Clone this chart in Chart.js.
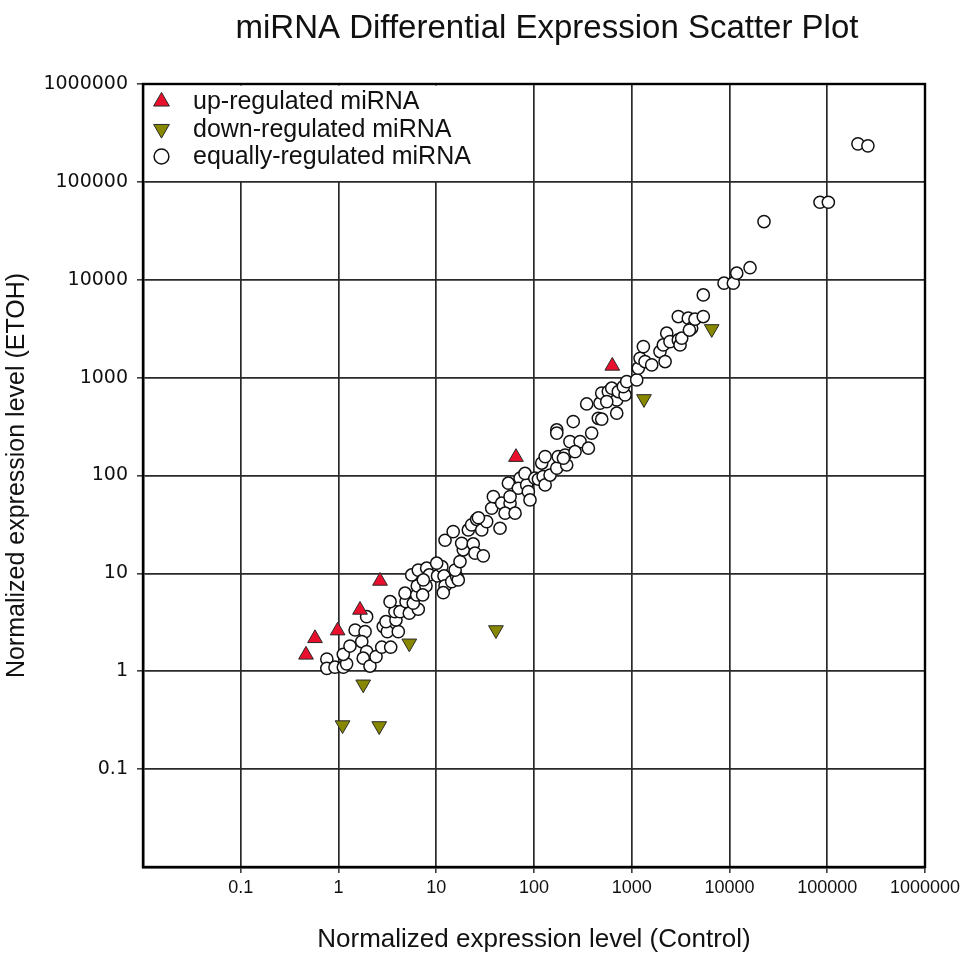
<!DOCTYPE html>
<html>
<head>
    <title>miRNA Differential Expression Scatter Plot</title>
    <style>
        html, body { margin: 0; padding: 0; background: #fff; }
        #wrap { width: 971px; height: 958px; }
    </style>
</head>
<body>
<div id="wrap"><canvas id="scatterChart" width="971" height="958"></canvas></div>

<script src="https://cdn.jsdelivr.net/npm/chart.js@4.4.1/dist/chart.umd.min.js"></script>
<script>
// values (Control vs ETOH)
const upX = [0.465, 0.575, 0.98, 1.66, 2.66, 65.4, 632];
const upY = [1.47, 2.17, 2.60, 4.23, 8.36, 154, 1317];

const downX = [1.10, 2.61, 1.79, 5.30, 40.8, 1334, 6576];
const downY = [0.282, 0.276, 0.736, 1.93, 2.64, 606, 3146];

const equalX = [
    0.76, 0.76, 0.92, 1.12, 1.21, 1.12, 1.31, 1.48, 1.87, 1.73, 1.94, 1.79, 2.10, 2.42, 2.77, 3.42,
    1.94, 2.87, 3.16, 4.09, 3.06, 3.87, 3.78, 3.37, 4.26, 4.91, 4.79, 5.30, 6.55, 5.82, 6.31, 6.40,
    7.85, 7.26, 5.61, 6.55, 7.98, 8.49, 10.3, 11.4, 12.0, 12.3, 11.8, 10.1,
    7.38, 14.4, 16.2, 16.8, 15.6, 17.5, 18.9, 18.2, 12.3, 14.9, 21.3, 23.9, 23.0, 25.9, 29.2, 32.8,
    24.9, 30.3, 44.9, 36.9, 38.4, 46.7, 56.9, 50.6, 64.0, 54.7, 72.0, 69.2, 84.2, 80.9,
    56.9, 87.5, 91.0, 102, 111, 124, 130, 120, 130, 146, 171, 177, 216, 208, 233, 296,
    263, 360, 389, 252, 171, 171, 346, 455, 27.0, 200,
    473, 493, 576, 624, 702, 729, 854, 820, 888, 1124, 1167, 1216, 1315, 1368, 1600, 1945,
    2104, 2280, 2193, 555, 702, 493,
    2460, 2994, 3119, 3243, 2994, 3784, 4100, 4433, 5393, 5393, 8790, 10940, 11860, 3890,
    16220, 22540, 84300, 102600, 206000, 260600
];
const equalY = [
    1.33, 1.07, 1.10, 1.10, 1.19, 1.49, 1.81, 2.64, 2.54, 2.01, 1.59, 1.36, 1.13, 1.41, 1.76, 1.76,
    3.61, 2.86, 2.54, 2.54, 3.21, 3.34, 4.06, 5.14, 4.06, 5.14, 6.27, 3.92, 4.30, 4.95, 6.02, 7.45,
    7.45, 6.02, 9.64, 10.8, 11.3, 9.64, 9.42, 11.7, 9.42, 7.45, 6.35, 12.7,
    8.57, 8.24, 9.26, 8.57, 10.8, 13.2, 17.4, 20.3, 21.8, 26.7, 27.8, 20.0, 31.3, 35.7, 27.8, 33.8,
    16.1, 15.1, 28.9, 46.3, 60.8, 52.1, 52.1, 41.2, 41.2, 83.4, 93.8, 74.1, 80.2, 105,
    60.8, 68.4, 56.3, 93.8, 91.6, 97.5, 80.2, 134, 156, 101, 119, 156, 128, 162, 222, 222,
    175, 190, 271, 356, 292, 271, 538, 384, 37.0, 150,
    548, 694, 720, 780, 592, 720, 665, 809, 910, 948, 1248, 1578, 2075, 1459, 1349, 1845,
    2158, 2844, 1459, 569, 433, 376,
    2333, 2428, 2158, 2529, 4207, 4046, 3199, 3954, 4207, 7000, 9220, 9220, 11670, 3060,
    13270, 39300, 61900, 61900, 244500, 233400
];

const tickValues = [0.1, 1, 10, 100, 1000, 10000, 100000, 1000000];
const tickLabels = ['0.1', '1', '10', '100', '1000', '10000', '100000', '1000000'];

const upColor = '#e8102c';
const downColor = '#878700';

function toPoints(xs, ys) {
    return xs.map((x, i) => ({ x: x, y: ys[i] }));
}

// title drawn at the same spot as the reference (it is not centred on the plot)
const titlePlugin = {
    id: 'plotTitle',
    afterDraw(chart) {
        const ctx = chart.ctx;
        ctx.save();
        ctx.font = "33px 'Liberation Sans', Arial, sans-serif";
        ctx.fillStyle = '#111';
        ctx.textAlign = 'center';
        ctx.textBaseline = 'middle';
        ctx.fillText('miRNA Differential Expression Scatter Plot', 547, 29);
        ctx.restore();
    }
};

// legend sits inside the plot, on a white patch that hides the grid behind it
const insideLegend = {
    id: 'insideLegend',
    beforeDatasetsDraw(chart) {
        const ctx = chart.ctx;
        const a = chart.chartArea;
        ctx.save();
        ctx.fillStyle = '#fff';
        ctx.fillRect(a.left + 1.5, a.top + 1.5, 500 - a.left, 181 - a.top - 1.5);

        const rows = [101.5, 129, 156.5];
        chart.data.datasets.forEach((ds, i) => {
            ctx.fillStyle = ds.backgroundColor;
            ctx.strokeStyle = ds.borderColor;
            ctx.lineWidth = ds.borderWidth;
            Chart.helpers.drawPoint(ctx, {
                pointStyle: ds.pointStyle,
                radius: ds.pointRadius + (ds.pointStyle === 'circle' ? 1.3 : 0.6),
                rotation: ds.pointRotation || 0,
                borderWidth: ds.borderWidth
            }, 161.5, rows[i]);

            ctx.fillStyle = '#111';
            ctx.font = "25px 'Liberation Sans', Arial, sans-serif";
            ctx.textAlign = 'left';
            ctx.textBaseline = 'middle';
            ctx.fillText(ds.label, 193, rows[i] + 1);
        });
        ctx.restore();
    },
    afterDatasetsDraw(chart) {
        const ctx = chart.ctx;
        const a = chart.chartArea;
        ctx.save();
        ctx.strokeStyle = '#000';
        ctx.lineWidth = 2.4;
        ctx.strokeRect(a.left, a.top, a.right - a.left, a.bottom - a.top);
        ctx.restore();
    }
};

const axisFont = "'Liberation Sans', Arial, sans-serif";

const ctx = document.getElementById('scatterChart').getContext('2d');
new Chart(ctx, {
    type: 'scatter',
    data: {
        datasets: [
            {
                label: 'up-regulated miRNA',
                data: toPoints(upX, upY),
                pointStyle: 'triangle',
                pointRadius: 8.5,
                pointRotation: 0,
                backgroundColor: upColor,
                borderColor: '#2a2a2a',
                borderWidth: 1
            },
            {
                label: 'down-regulated miRNA',
                data: toPoints(downX, downY),
                pointStyle: 'triangle',
                pointRadius: 8.5,
                pointRotation: 180,
                backgroundColor: downColor,
                borderColor: '#2a2a2a',
                borderWidth: 1
            },
            {
                label: 'equally-regulated miRNA',
                data: toPoints(equalX, equalY),
                pointStyle: 'circle',
                pointRadius: 6.1,
                backgroundColor: '#fff',
                borderColor: '#111',
                borderWidth: 1.5
            }
        ]
    },
    options: {
        responsive: false,
        animation: false,
        layout: { padding: { top: 84, right: 46, bottom: 0, left: 0 } },
        plugins: {
            legend: { display: false },
            tooltip: { enabled: false },
            title: { display: false }
        },
        scales: {
            x: {
                type: 'logarithmic',
                position: 'bottom',
                min: 0.01,
                max: 1000000,
                afterBuildTicks: s => { s.ticks = tickValues.map(v => ({ value: v })); },
                afterFit: s => { s.height = 91; },
                ticks: {
                    autoSkip: false,
                    maxRotation: 0,
                    padding: 4,
                    color: '#111',
                    font: { family: "'Liberation Sans Narrow', 'Liberation Sans', Arial", size: 18 },
                    callback: (v, i) => tickLabels[i]
                },
                grid: { color: '#2a2a2a', lineWidth: 1.7, tickColor: '#111', tickLength: 6, tickWidth: 1.3 },
                border: { color: '#000', width: 2.4 },
                title: {
                    display: true,
                    text: 'Normalized expression level (Control)',
                    color: '#111',
                    font: { family: axisFont, size: 26 },
                    padding: { top: 0, bottom: 3 }
                }
            },
            y: {
                type: 'logarithmic',
                min: 0.01,
                max: 1000000,
                afterBuildTicks: s => { s.ticks = tickValues.map(v => ({ value: v })); },
                afterFit: s => { s.width = 143; },
                ticks: {
                    autoSkip: false,
                    padding: 9,
                    color: '#111',
                    font: { family: "'DejaVu Sans', Arial", size: 19 },
                    callback: (v, i) => tickLabels[i]
                },
                grid: { color: '#2a2a2a', lineWidth: 1.7, tickColor: '#111', tickLength: 6, tickWidth: 1.3 },
                border: { color: '#000', width: 2.4 },
                title: {
                    display: true,
                    text: 'Normalized expression level (ETOH)',
                    color: '#111',
                    font: { family: axisFont, size: 25 },
                    padding: { top: 2, bottom: 0 }
                }
            }
        }
    },
    plugins: [titlePlugin, insideLegend]
});
</script>
</body>
</html>
